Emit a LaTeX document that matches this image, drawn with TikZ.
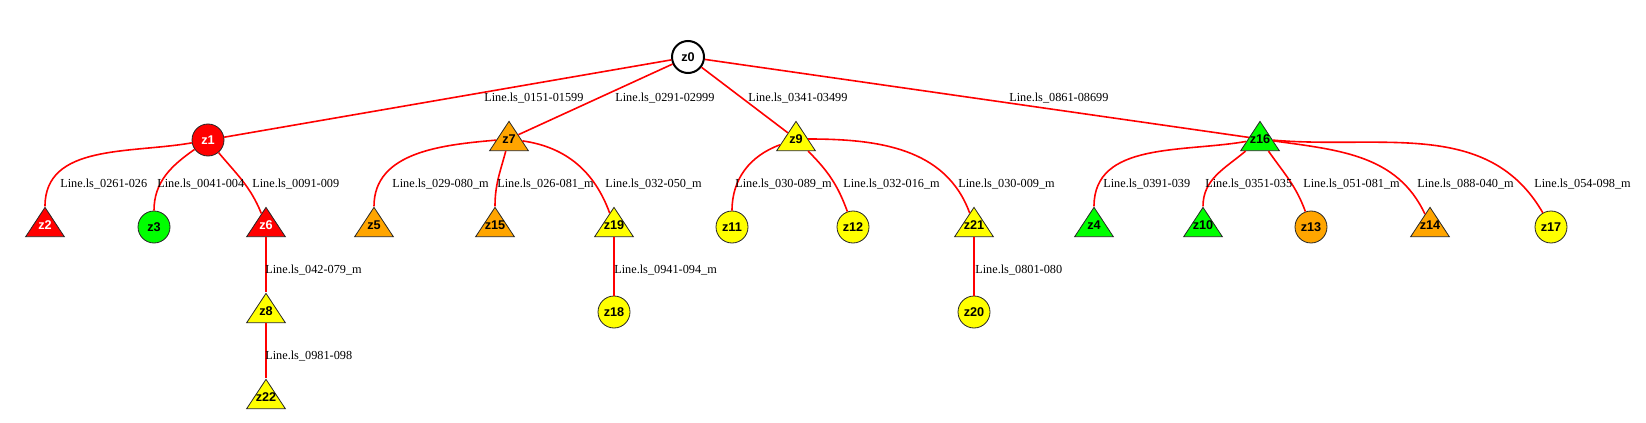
\documentclass[tikz,border=0pt]{standalone}
\usepackage{fontspec}
\setmainfont{Liberation Serif}
\setsansfont{Liberation Sans}
\definecolor{zred}{RGB}{255,0,0}
\definecolor{zgreen}{RGB}{0,255,0}
\definecolor{zorange}{RGB}{255,165,0}
\definecolor{zyellow}{RGB}{255,255,0}
\usetikzlibrary{shapes.geometric,positioning}

\begin{document}
\begin{tikzpicture}[x=0.75pt,y=0.75pt,
  zbus/.style={circle,draw=black!85,line width=0.6pt,minimum size=24pt,inner sep=0pt,
    font=\sffamily\bfseries\fontsize{9.5}{11}\selectfont},
  ztri/.style={isosceles triangle,isosceles triangle stretches,shape border rotate=90,
    draw=black!85,line width=0.6pt,minimum width=29pt,minimum height=22pt,inner sep=0pt,
    font=\sffamily\bfseries\fontsize{9.5}{11}\selectfont,
    execute at begin node={\hbox to 0pt\bgroup\hss},execute at end node={\hss\egroup}},
  zline/.style={draw=zred,line width=1.2pt},
  zlabel/.style={anchor=west,inner sep=0pt,font=\fontsize{9.2}{11}\selectfont}
]
  \useasboundingbox (0,0) rectangle (1646,422);
  % source
  \node[zbus,fill=white,draw=black,line width=1.5pt] (z0) at (688,365) {z0};
  % first level
  \node[zbus,fill=zred,text=white] (z1) at (208,282) {z1};
  \node[ztri,fill=zorange] (z7) at (509,283) {z7};
  \node[ztri,fill=zyellow] (z9) at (796,283) {z9};
  \node[ztri,fill=zgreen] (z16) at (1260,283) {z16};
  % second level
  \node[ztri,fill=zred,text=white] (z2) at (45,197) {z2};
  \node[zbus,fill=zgreen] (z3) at (154,195) {z3};
  \node[ztri,fill=zred,text=white] (z6) at (266,197) {z6};
  \node[ztri,fill=zorange] (z5) at (374,197) {z5};
  \node[ztri,fill=zorange] (z15) at (495,197) {z15};
  \node[ztri,fill=zyellow] (z19) at (614,197) {z19};
  \node[zbus,fill=zyellow] (z11) at (732,195) {z11};
  \node[zbus,fill=zyellow] (z12) at (853,195) {z12};
  \node[ztri,fill=zyellow] (z21) at (974,197) {z21};
  \node[ztri,fill=zgreen] (z4) at (1094,197) {z4};
  \node[ztri,fill=zgreen] (z10) at (1203,197) {z10};
  \node[zbus,fill=zorange] (z13) at (1311,195) {z13};
  \node[ztri,fill=zorange] (z14) at (1430,197) {z14};
  \node[zbus,fill=zyellow] (z17) at (1551,195) {z17};
  % third and fourth level
  \node[ztri,fill=zyellow] (z8) at (266,111) {z8};
  \node[zbus,fill=zyellow] (z18) at (614,110) {z18};
  \node[zbus,fill=zyellow] (z20) at (974,110) {z20};
  \node[ztri,fill=zyellow] (z22) at (266,25) {z22};

  % lines from z0
  \draw[zline] (z0) -- (z1);
  \draw[zline] (z0) -- (z7);
  \draw[zline] (z0) -- (z9);
  \draw[zline] (z0) -- (z16);
  % lines from z1
  \draw[zline] (z1) to[out=190,in=90] (z2);
  \draw[zline] (z1) to[out=215,in=90] (z3);
  \draw[zline] (z1) to[out=-50,in=112] (z6);
  % lines from z7
  \draw[zline] (z7) to[out=185,in=90] (z5);
  \draw[zline] (z7) to[out=255,in=90] (z15);
  \draw[zline] (z7) to[out=-8,in=110] (z19);
  % lines from z9
  \draw[zline] (z9) to[out=200,in=90] (z11);
  \draw[zline] (z9) to[out=-45,in=110] (z12);
  \draw[zline] (z9) to[out=0,in=110] (z21);
  % lines from z16
  \draw[zline] (z16) to[out=190,in=90] (z4);
  \draw[zline] (z16) to[out=220,in=90] (z10);
  \draw[zline] (z16) to[out=-55,in=110] (z13);
  \draw[zline] (z16) to[out=-8,in=115] (z14);
  \draw[zline] (z16) to[out=-5,in=120] (z17);
  % vertical lines
  \draw[zline] (z6) -- (z8);
  \draw[zline] (z8) -- (z22);
  \draw[zline] (z19) -- (z18);
  \draw[zline] (z21) -- (z20);

  % line labels
  \node[zlabel] (l0151) at (484,324) {Line.ls\_0151-01599};
  \node[zlabel] (l0291) at (615,324) {Line.ls\_0291-02999};
  \node[zlabel] (l0341) at (748,324) {Line.ls\_0341-03499};
  \node[zlabel] (l0861) at (1009,324) {Line.ls\_0861-08699};
  \node[zlabel] (l0261) at (60,238) {Line.ls\_0261-026};
  \node[zlabel] (l0041) at (157,238) {Line.ls\_0041-004};
  \node[zlabel] (l0091) at (252,238) {Line.ls\_0091-009};
  \node[zlabel] (l029) at (392,238) {Line.ls\_029-080\_m};
  \node[zlabel] (l026) at (497,238) {Line.ls\_026-081\_m};
  \node[zlabel] (l032a) at (605,238) {Line.ls\_032-050\_m};
  \node[zlabel] (l030a) at (735,238) {Line.ls\_030-089\_m};
  \node[zlabel] (l032b) at (843,238) {Line.ls\_032-016\_m};
  \node[zlabel] (l030b) at (958,238) {Line.ls\_030-009\_m};
  \node[zlabel] (l0391) at (1103,238) {Line.ls\_0391-039};
  \node[zlabel] (l0351) at (1205,238) {Line.ls\_0351-035};
  \node[zlabel] (l051) at (1303,238) {Line.ls\_051-081\_m};
  \node[zlabel] (l088) at (1417,238) {Line.ls\_088-040\_m};
  \node[zlabel] (l054) at (1534,238) {Line.ls\_054-098\_m};
  \node[zlabel] (l042) at (265,152) {Line.ls\_042-079\_m};
  \node[zlabel] (l0941) at (614,152) {Line.ls\_0941-094\_m};
  \node[zlabel] (l0801) at (975,152) {Line.ls\_0801-080};
  \node[zlabel] (l0981) at (265,66) {Line.ls\_0981-098};
\end{tikzpicture}
\end{document}
